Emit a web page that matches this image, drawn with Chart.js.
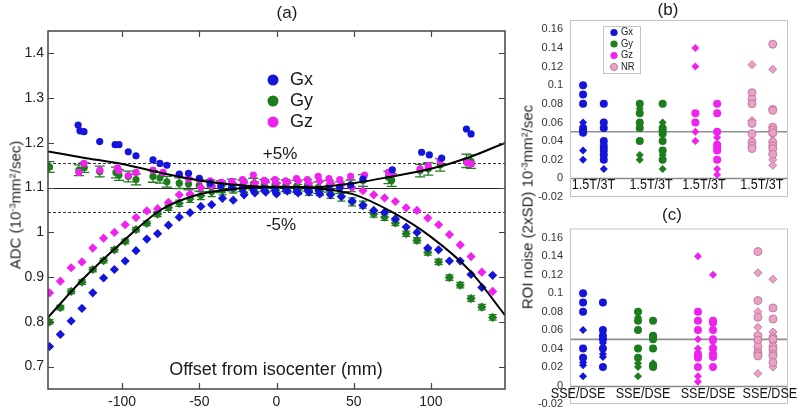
<!DOCTYPE html>
<html><head><meta charset="utf-8">
<script src="https://cdn.jsdelivr.net/npm/chart.js@4.4.1/dist/chart.umd.min.js"></script>
<style>
html,body{margin:0;padding:0;background:#fff;}
body{width:800px;height:411px;position:relative;overflow:hidden;font-family:"Liberation Sans",Arial,sans-serif;}
canvas{position:absolute;}
.ylab{position:absolute;white-space:nowrap;color:#222;transform:translate(-50%,-50%) rotate(-90deg);line-height:1;z-index:5;}
.ylab sup{font-size:0.62em;line-height:0;vertical-align:0.5em;}
</style></head><body>
<canvas id="ca" width="520" height="411" style="left:0;top:0;z-index:1"></canvas>
<canvas id="cc" width="270" height="206" style="left:530px;top:205px;z-index:1"></canvas>
<canvas id="cb" width="270" height="215" style="left:530px;top:0;z-index:3"></canvas>
<div class="ylab" style="left:15px;top:205px;font-size:15px">ADC (10<sup>-3</sup>mm<sup>2</sup>/sec)</div>
<div class="ylab" style="left:527px;top:207px;font-size:15px">ROI noise (2xSD) 10<sup>-3</sup>mm<sup>2</sup>/sec</div>
<script>
// ---------------- DATA: panel (a) ----------------
const xTicksA = [-100, -50, 0, 50, 100];
const yTicksA = [0.7, 0.8, 0.9, 1.0, 1.1, 1.2, 1.3, 1.4];
const refLevels = [1.045, 1.1, 1.155];
const seriesA = ['Gx', 'Gy', 'Gz'];

const fitX     = [-148, -125, -100, -75, -50, -25, 0, 25, 50, 75, 100, 125, 148];
const fitUpper = [1.181, 1.167, 1.153, 1.133, 1.116, 1.106, 1.101, 1.101, 1.110, 1.125, 1.142, 1.168, 1.200];
const fitLower = [0.810, 0.897, 0.978, 1.050, 1.085, 1.098, 1.102, 1.099, 1.085, 1.045, 0.990, 0.915, 0.815];

const lowerX = [-147,-140,-133,-126,-119,-112,-105,-98,-91,-84,-77,-70,-63,-56,-49,-42,-35,-28,-21,-14,-7,
                0,7,14,21,28,35,42,49,56,63,70,77,84,91,98,105,112,119,126,133,140];
const gxLower = [0.745,0.772,0.802,0.830,0.865,0.898,0.917,0.936,0.959,0.985,0.997,1.016,1.034,1.044,1.058,1.062,1.076,1.072,1.084,1.088,1.090,
                 1.086,1.092,1.088,1.090,1.086,1.084,1.080,1.070,1.060,1.049,1.045,1.030,1.012,1.000,0.965,0.961,0.936,0.936,0.906,0.877,0.904];
const gyLower = [0.800,0.832,0.868,0.889,0.917,0.937,0.961,0.980,1.006,1.020,1.041,1.055,1.065,1.075,1.082,1.090,1.094,1.098,1.100,1.102,1.100,
                 1.100,1.098,1.096,1.094,1.092,1.086,1.080,1.068,1.062,1.041,1.034,1.021,0.997,0.982,0.955,0.934,0.899,0.882,0.852,0.833,0.810];
const gyLowerErr = [0.005,0.005,0.005,0.005,0.005,0.005,0.005,0.005,0.005,0.005,0.006,0.006,0.007,0.008,0.009,0.010,0.010,0.010,0.011,0.011,0.011,
                    0.011,0.011,0.011,0.011,0.010,0.010,0.010,0.009,0.008,0.007,0.007,0.006,0.006,0.006,0.006,0.006,0.006,0.006,0.006,0.006,0.006];
const gzLower = [0.865,0.891,0.921,0.934,0.965,0.987,1.000,1.017,1.033,1.048,1.053,1.067,1.084,1.086,1.100,1.104,1.110,1.108,1.112,1.110,1.114,
                 1.110,1.112,1.115,1.110,1.114,1.110,1.106,1.100,1.093,1.084,1.077,1.069,1.055,1.049,1.032,1.017,0.995,0.972,0.946,0.911,0.868];

const gxUpperX = [-128.5,-127.3,-124.7,-114.5,-104.5,-102,-96,-91,-80,-75.5,-71,-63,-57,-50,
                  -43,-36,-29,-22,-15,-8,-1,6,13,20,27,34,41,48,
                  56,75,94,99,107,123,126];
const gxUpper  = [1.240,1.227,1.225,1.203,1.196,1.196,1.180,1.171,1.162,1.154,1.150,1.130,1.132,1.121,
                  1.110,1.104,1.100,1.097,1.095,1.097,1.094,1.096,1.093,1.097,1.095,1.098,1.100,1.106,
                  1.119,1.140,1.179,1.173,1.166,1.231,1.220];
const gyUpperX = [-147,-128,-124.5,-114.5,-104,-102,-96,-91,-80,-75.5,-71,-63,-57,-50,
                  -43,-36,-29,-22,-15,-8,-1,6,13,20,27,34,41,48,
                  56,72.5,74.6,93,98.3,106,123,126];
const gyUpper  = [1.146,1.139,1.145,1.136,1.134,1.128,1.125,1.118,1.125,1.122,1.113,1.110,1.108,1.105,
                  1.104,1.102,1.106,1.104,1.108,1.105,1.106,1.104,1.103,1.105,1.100,1.103,1.100,1.104,
                  1.116,1.123,1.117,1.138,1.142,1.151,1.160,1.158];
const gyUpperErr = [0.012,0.012,0.011,0.012,0.012,0.012,0.012,0.012,0.013,0.012,0.012,0.012,0.013,0.013,
                    0.013,0.013,0.013,0.013,0.013,0.013,0.013,0.013,0.013,0.013,0.013,0.013,0.013,0.013,
                    0.013,0.014,0.014,0.014,0.014,0.014,0.015,0.015];
const gzUpperX = [-128,-124.7,-114.4,-103,-102,-96,-91,-80,-73.5,-63,-57,-50,
                  -43,-36,-29,-22,-15,-8,-1,6,13,20,27,34,41,48,
                  57,72.5,74.6,93,98.3,106,123.4,126.2];
const gzUpper  = [1.134,1.154,1.139,1.144,1.138,1.127,1.134,1.139,1.134,1.129,1.120,1.118,
                  1.115,1.112,1.114,1.118,1.128,1.116,1.118,1.115,1.120,1.118,1.125,1.120,1.118,1.125,
                  1.128,1.134,1.130,1.142,1.149,1.160,1.156,1.153];

// ---------------- DATA: panels (b) and (c) ----------------
const seriesBC = ['Gx', 'Gy', 'Gz', 'NR'];
const yTicksBC = [-0.02, 0, 0.02, 0.04, 0.06, 0.08, 0.1, 0.12, 0.14, 0.16];
const groupLabelB = '1.5T/3T';
const groupLabelC = 'SSE/DSE';
// each: [first column (1.5T / SSE), second column (3T / DSE)]
const bGxDots = [[0.100,0.090,0.080,0.054,0.051,0.049],[0.080,0.060,0.054,0.040,0.034,0.030,0.025,0.020]];
const bGxDiam = [[0.060,0.030,0.020],[0.037,0.010]];
const bGyDots = [[0.080,0.070,0.060,0.054,0.040],[0.080,0.054,0.051,0.048,0.040,0.030,0.020]];
const bGyDiam = [[0.075,0.025,0.020],[0.060,0.025,0.010]];
const bGzDots = [[0.070,0.060],[0.080,0.070,0.050,0.036,0.033,0.030,0.020]];
const bGzDiam = [[0.140,0.120,0.050,0.040],[0.044,0.010,0.004]];
const bNRDots = [[0.092,0.085,0.080,0.059,0.048,0.039,0.035,0.032],[0.144,0.074,0.073,0.055,0.052,0.049,0.039,0.035,0.032,0.026]];
const bNRDiam = [[0.122,0.062],[0.117,0.047,0.020,0.014]];

const cGxDots = [[0.100,0.090,0.080,0.040,0.030],[0.090,0.060,0.054,0.050,0.040,0.020]];
const cGxDiam = [[0.060,0.025,0.022,0.010],[0.046,0.034,0.031]];
const cGyDots = [[0.080,0.070,0.060,0.040,0.030],[0.070,0.054,0.052,0.050,0.040,0.022,0.020]];
const cGyDiam = [[0.074,0.024,0.020,0.010],[0.024]];
const cGzDots = [[0.080,0.070,0.060,0.034,0.032,0.030,0.020],[0.070,0.068,0.060,0.050,0.040,0.034,0.031,0.020]];
const cGzDiam = [[0.140,0.050,0.040,0.010,0.004],[0.120,0.047,0.042]];
const cNRDots = [[0.145,0.092,0.074,0.054,0.049,0.042,0.036,0.034,0.032],[0.084,0.072,0.052,0.050,0.042,0.039,0.034,0.032,0.025]];
const cNRDiam = [[0.122,0.080,0.063,0.013],[0.115,0.058,0.047,0.020]];

// ---------------- STYLE / LAYOUT ----------------
const FONT = '"Liberation Sans", Arial, Helvetica, sans-serif';
const BLUE = '#1414dc', GREEN = '#1d7d1d', MAGENTA = '#f022f0', PINK = '#e8a2c6', PINK_EDGE = '#c67a9e';
const fillsBC = [BLUE, GREEN, MAGENTA, PINK];
const edgesBC = [BLUE, GREEN, MAGENTA, PINK_EDGE];
// column slots on the 0..10 x scale of panels (b),(c)
const colSlotsB = [0.6, 1.55, 3.2, 4.25, 5.75, 6.75, 8.35, 9.3];
const labelSlotsB = [1.08, 3.72, 6.15, 8.8];
const colSlotsC = [0.6, 1.51, 3.12, 3.81, 5.87, 6.56, 8.62, 9.31];
const labelSlotsC = [0.37, 3.35, 6.33, 9.17];

const fmt = v => String(parseFloat(Number(v).toFixed(3)));
const pts = (xs, ys) => xs.map((x, i) => ({x: x, y: ys[i]}));

function drawText(ctx, s, x, y, size, o) {
  o = o || {};
  ctx.save();
  ctx.font = size + 'px ' + FONT;
  ctx.fillStyle = o.color || '#1a1a1a';
  ctx.textAlign = o.align || 'center';
  ctx.textBaseline = o.base || 'middle';
  ctx.translate(x, y);
  if (o.sx) ctx.scale(o.sx, 1);
  ctx.fillText(s, 0, 0);
  ctx.restore();
}
function clipArea(ctx, a) {
  ctx.beginPath(); ctx.rect(a.left, a.top, a.right - a.left, a.bottom - a.top); ctx.clip();
}
const noPad = s => { s.paddingTop = 0; s.paddingBottom = 0; s.paddingLeft = 0; s.paddingRight = 0; };

// ---------------- PANEL (a) ----------------
const panelAPlugin = {
  id: 'panelA',
  beforeDatasetsDraw(chart) {
    const {ctx, chartArea: a, scales: {y}} = chart;
    ctx.save(); clipArea(ctx, a);
    refLevels.forEach((lv, i) => {
      const py = Math.round(y.getPixelForValue(lv)) + 0.5;
      ctx.beginPath();
      ctx.setLineDash(i === 1 ? [] : [3, 2]);
      ctx.lineWidth = 1; ctx.strokeStyle = i === 1 ? '#222' : '#333';
      ctx.moveTo(a.left, py); ctx.lineTo(a.right, py); ctx.stroke();
    });
    ctx.restore();
  },
  beforeDatasetDraw(chart, args) {
    const ds = chart.data.datasets[args.index];
    if (!ds.errors) return;
    const {ctx, chartArea: a, scales: {x, y}} = chart;
    ctx.save(); clipArea(ctx, a);
    ctx.strokeStyle = ds.backgroundColor; ctx.lineWidth = 1.3;
    ds.data.forEach((p, i) => {
      const e = ds.errors[i];
      const px = x.getPixelForValue(p.x);
      const y1 = y.getPixelForValue(p.y - e), y2 = y.getPixelForValue(p.y + e);
      const hw = ds.capHalf;
      ctx.beginPath();
      ctx.moveTo(px, y1); ctx.lineTo(px, y2);
      ctx.moveTo(px - hw, y1); ctx.lineTo(px + hw, y1);
      ctx.moveTo(px - hw, y2); ctx.lineTo(px + hw, y2);
      ctx.stroke();
    });
    ctx.restore();
  },
  afterDraw(chart) {
    const {ctx, chartArea: a, scales: {x, y}} = chart;
    ctx.save();
    ctx.strokeStyle = '#444'; ctx.lineWidth = 1.5;
    ctx.strokeRect(a.left, a.top, a.right - a.left, a.bottom - a.top);
    ctx.lineWidth = 1.2;
    ctx.beginPath();
    xTicksA.forEach(v => {
      const px = Math.round(x.getPixelForValue(v)) + 0.5;
      ctx.moveTo(px, a.bottom); ctx.lineTo(px, a.bottom - 6);
      ctx.moveTo(px, a.top); ctx.lineTo(px, a.top + 6);
    });
    yTicksA.forEach(v => {
      const py = Math.round(y.getPixelForValue(v)) + 0.5;
      ctx.moveTo(a.left, py); ctx.lineTo(a.left + 6, py);
      ctx.moveTo(a.right, py); ctx.lineTo(a.right - 6, py);
    });
    ctx.stroke();
    ctx.restore();
    drawText(ctx, '(a)', 287, 13, 17);
    drawText(ctx, '+5%', 280, 154, 17);
    drawText(ctx, '-5%', 281, 225, 17);
    drawText(ctx, 'Offset from isocenter (mm)', 276, 370, 18);
    const legCols = [BLUE, GREEN, MAGENTA];
    seriesA.forEach((n, i) => {
      const ly = 80 + i * 21;
      ctx.save(); ctx.fillStyle = legCols[i];
      ctx.beginPath(); ctx.arc(273, ly, 5.5, 0, Math.PI * 2); ctx.fill(); ctx.restore();
      drawText(ctx, n, 290, ly, 18, {align: 'left'});
    });
  }
};

const dotA = (label, data, color, order) => ({label, data, backgroundColor: color, borderWidth: 0,
  pointStyle: 'circle', pointRadius: 3.6, order, clip: 0});
const diaA = (label, data, color, order) => ({label, data, backgroundColor: color, borderWidth: 0,
  pointStyle: 'rectRot', pointRadius: 4.6, order, clip: 0});

const gyUpperDs = dotA('Gy', pts(gyUpperX, gyUpper), GREEN, 4);
gyUpperDs.errors = gyUpperErr; gyUpperDs.capHalf = 5;
const gyLowerDs = diaA('Gy', pts(lowerX, gyLower), GREEN, 4);
gyLowerDs.errors = gyLowerErr; gyLowerDs.capHalf = 4;

new Chart(document.getElementById('ca'), {
  type: 'scatter',
  data: {datasets: [
    {label: 'fit upper', data: pts(fitX, fitUpper), showLine: true, borderColor: '#000', borderWidth: 2,
     pointRadius: 0, cubicInterpolationMode: 'monotone', order: 0, clip: 0},
    {label: 'fit lower', data: pts(fitX, fitLower), showLine: true, borderColor: '#000', borderWidth: 2,
     pointRadius: 0, cubicInterpolationMode: 'monotone', order: 0, clip: 0},
    dotA('Gx', pts(gxUpperX, gxUpper), BLUE, 2),
    diaA('Gx', pts(lowerX, gxLower), BLUE, 2),
    dotA('Gz', pts(gzUpperX, gzUpper), MAGENTA, 3),
    diaA('Gz', pts(lowerX, gzLower), MAGENTA, 3),
    gyUpperDs, gyLowerDs
  ]},
  options: {
    responsive: false, animation: false, events: [],
    plugins: {legend: {display: false}, tooltip: {enabled: false}, title: {display: false}},
    layout: {padding: {top: 31, right: 15, left: 0, bottom: 0}},
    scales: {
      x: {type: 'linear', min: -148, max: 148,
          grid: {display: false, drawTicks: false}, border: {display: false},
          afterBuildTicks: s => { s.ticks = xTicksA.map(v => ({value: v})); },
          afterFit: s => { s.height = 22; noPad(s); },
          ticks: {font: {family: FONT, size: 14}, color: '#222', padding: 5, maxRotation: 0, autoSkip: false, callback: v => fmt(v)}},
      y: {type: 'linear', min: 0.65, max: 1.45,
          grid: {display: false, drawTicks: false}, border: {display: false},
          afterBuildTicks: s => { s.ticks = yTicksA.map(v => ({value: v})); },
          afterFit: s => { s.width = 48; noPad(s); },
          ticks: {font: {family: FONT, size: 14}, color: '#222', padding: 4, autoSkip: false, callback: v => fmt(v)}}
    }
  },
  plugins: [panelAPlugin]
});

// ---------------- PANELS (b) and (c) ----------------
function makeNoisePanel(canvasId, cfg) {
  const datasets = [];
  seriesBC.forEach((name, s) => {
    [0, 1].forEach(c => {
      const xv = cfg.colSlots[s * 2 + c];
      datasets.push({label: name, data: cfg.dots[s][c].map(v => ({x: xv, y: v})), pointStyle: 'circle', pointRadius: 4,
        backgroundColor: fillsBC[s], borderColor: edgesBC[s], borderWidth: s === 3 ? 1 : 0});
      datasets.push({label: name, data: cfg.diam[s][c].map(v => ({x: xv, y: v})), pointStyle: 'rectRot', pointRadius: 4,
        backgroundColor: fillsBC[s], borderColor: edgesBC[s], borderWidth: s === 3 ? 1 : 0});
    });
  });
  const plugin = {
    id: 'noise' + canvasId,
    beforeDatasetsDraw(chart) {
      const {ctx, chartArea: a, scales: {y}} = chart;
      ctx.save();
      const p0 = Math.round(y.getPixelForValue(0)) + 0.5;
      const p5 = y.getPixelForValue(0.05);
      ctx.strokeStyle = '#8a8a8a'; ctx.lineWidth = 1.3;
      ctx.beginPath(); ctx.moveTo(a.left, p0); ctx.lineTo(a.right, p0); ctx.stroke();
      ctx.strokeStyle = '#8f8f8f'; ctx.lineWidth = 1.6;
      ctx.beginPath(); ctx.moveTo(a.left, p5); ctx.lineTo(a.right, p5); ctx.stroke();
      ctx.restore();
    },
    afterDraw(chart) {
      const {ctx, chartArea: a, scales: {x, y}} = chart;
      ctx.save();
      ctx.strokeStyle = '#c4c4c4'; ctx.lineWidth = 1;
      ctx.strokeRect(a.left + 0.5, a.top + 0.5, a.right - a.left - 1, a.bottom - a.top - 1);
      ctx.restore();
      drawText(ctx, cfg.title, cfg.titleX, 10, 17);
      const ly = y.getPixelForValue(0) + cfg.labelDy;
      cfg.labelSlots.forEach(v => drawText(ctx, cfg.groupLabel, x.getPixelForValue(v), ly, 15, {sx: 0.84, color: '#111'}));
      if (cfg.legend) {
        const bx = a.left + 33, by = 26;
        ctx.save();
        ctx.fillStyle = '#fff'; ctx.strokeStyle = '#c4c4c4'; ctx.lineWidth = 1;
        ctx.fillRect(bx, by, 37, 47); ctx.strokeRect(bx + 0.5, by + 0.5, 37, 47);
        seriesBC.forEach((n, i) => {
          const yy = by + 6.5 + i * 11.5;
          ctx.beginPath(); ctx.arc(bx + 11, yy, 3.6, 0, Math.PI * 2);
          ctx.fillStyle = fillsBC[i]; ctx.fill();
          if (i === 3) { ctx.strokeStyle = PINK_EDGE; ctx.stroke(); }
          drawText(ctx, n, bx + 18, yy, 10.5, {align: 'left', sx: 0.9, color: '#222'});
        });
        ctx.restore();
      }
      // y tick labels, placed through the y scale
      yTicksBC.forEach(v => drawText(ctx, fmt(v), a.left - 7, y.getPixelForValue(v), 11, {align: 'right', color: '#333'}));
    }
  };
  return new Chart(document.getElementById(canvasId), {
    type: 'scatter',
    data: {datasets},
    options: {
      responsive: false, animation: false, events: [],
      plugins: {legend: {display: false}, tooltip: {enabled: false}},
      layout: {padding: cfg.padding},
      scales: {
        x: {type: 'linear', min: 0, max: 10, display: false},
        y: {type: 'linear', min: -0.02, max: 0.17, display: false}
      }
    },
    plugins: [plugin]
  });
}

makeNoisePanel('cb', {
  dots: [bGxDots, bGyDots, bGzDots, bNRDots], diam: [bGxDiam, bGyDiam, bGzDiam, bNRDiam],
  colSlots: colSlotsB, labelSlots: labelSlotsB, groupLabel: groupLabelB, labelDy: 6,
  title: '(b)', titleX: 138, legend: true,
  padding: {top: 20, right: 12, bottom: 18, left: 40}
});
makeNoisePanel('cc', {
  dots: [cGxDots, cGyDots, cGzDots, cNRDots], diam: [cGxDiam, cGyDiam, cGzDiam, cNRDiam],
  colSlots: colSlotsC, labelSlots: labelSlotsC, groupLabel: groupLabelC, labelDy: 8,
  title: '(c)', titleX: 142, legend: false,
  padding: {top: 23.5, right: 12, bottom: 7, left: 40}
});
</script>
</body></html>
